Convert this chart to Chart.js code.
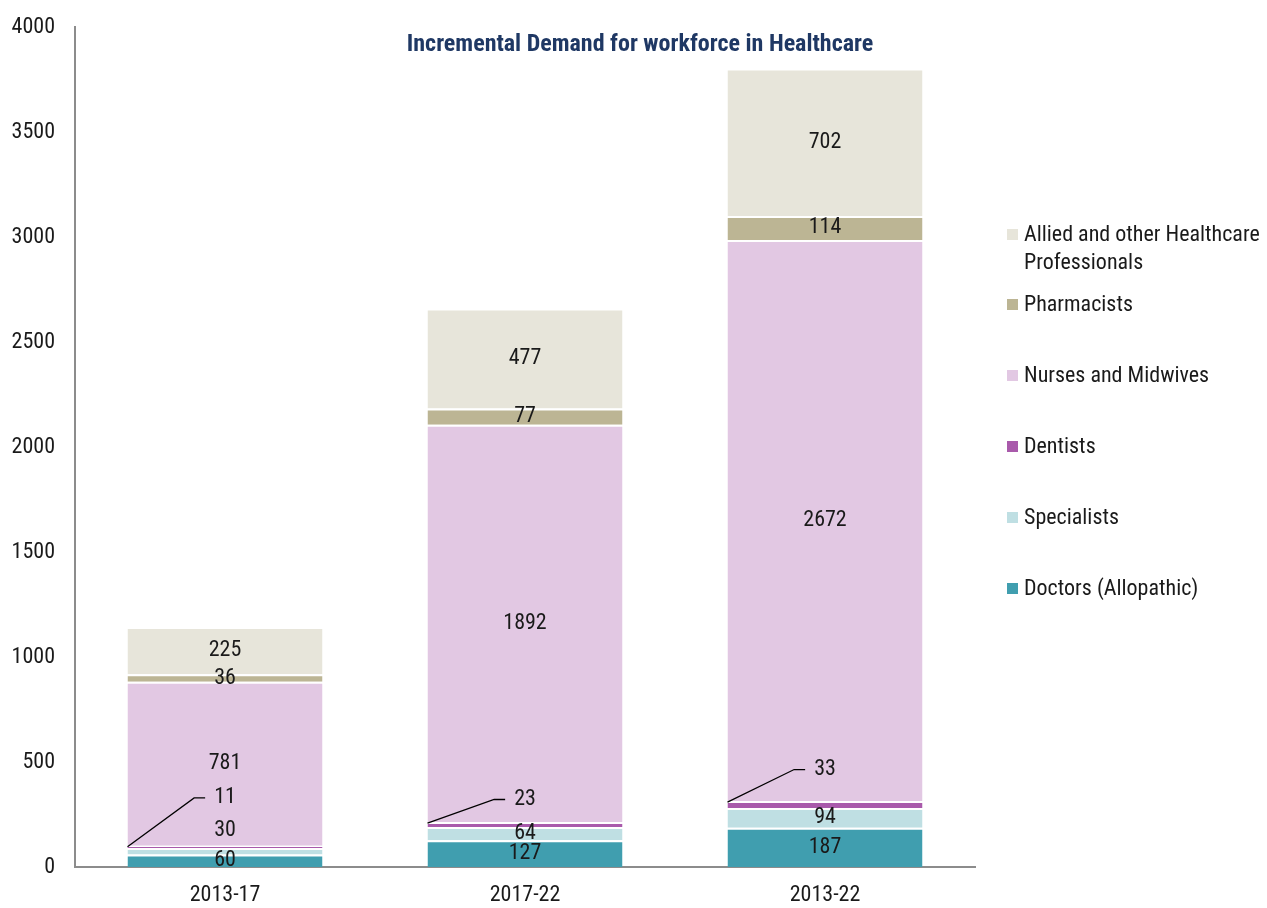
<!DOCTYPE html>
<html>
<head>
<meta charset="utf-8">
<script src="https://cdn.jsdelivr.net/npm/chart.js@4/dist/chart.umd.min.js"></script>
<style>
  html, body { margin: 0; padding: 0; background: #fff; }
  #wrap { width: 1267px; height: 908px; }
</style>
</head>
<body>
<div id="wrap"><canvas id="myChart" width="1267" height="908"></canvas></div>
<script>
const FONT = "'Roboto Condensed', 'Liberation Sans Narrow', 'DejaVu Sans Condensed', Roboto, sans-serif";

const categories = ['2013-17', '2017-22', '2013-22'];
const doctors = [60, 127, 187];
const specialists = [30, 64, 94];
const dentists = [11, 23, 33];
const nurses = [781, 1892, 2672];
const pharmacists = [36, 77, 114];
const allied = [225, 477, 702];
const yTicks = [0, 500, 1000, 1500, 2000, 2500, 3000, 3500, 4000];

const seriesNames = ['Doctors (Allopathic)', 'Specialists', 'Dentists', 'Nurses and Midwives', 'Pharmacists', 'Allied and other Healthcare Professionals'];
const seriesColors = ['#409eaf', '#bfdfe3', '#a95aab', '#e2c8e3', '#bcb594', '#e7e5da'];
const seriesValues = [doctors, specialists, dentists, nurses, pharmacists, allied];

// label shifts (px) for segments too thin to hold their number
const labelShift = {
    1: [-21, 0, 0],
    2: [-49, -25, -35]
};
const leaderSeries = 2;

const datasets = seriesValues.map((vals, i) => ({
    label: seriesNames[i],
    data: vals,
    backgroundColor: seriesColors[i],
    borderColor: '#ffffff',
    borderWidth: { top: 2, left: 0, right: 0, bottom: 0 },
    borderSkipped: false,
    barPercentage: 0.65,
    categoryPercentage: 1.0
}));

const labelsPlugin = {
    id: 'segLabels',
    afterDatasetsDraw(chart) {
        const ctx = chart.ctx;
        ctx.save();
        ctx.font = '22px ' + FONT;
        ctx.fillStyle = '#1a1a1a';
        ctx.textAlign = 'center';
        ctx.textBaseline = 'middle';
        chart.data.datasets.forEach((ds, di) => {
            const meta = chart.getDatasetMeta(di);
            meta.data.forEach((bar, i) => {
                const mid = (bar.y + bar.base) / 2;
                const shift = labelShift[di] ? labelShift[di][i] : 0;
                const ly = mid + shift;
                const txt = String(ds.data[i]);
                ctx.fillText(txt, bar.x, ly);
                if (di === leaderSeries) {
                    const tw = ctx.measureText(txt).width;
                    const endX = bar.x - tw / 2 - 9;
                    const elbowX = endX - 11;
                    ctx.beginPath();
                    ctx.strokeStyle = '#000';
                    ctx.lineWidth = 1.3;
                    ctx.moveTo(bar.x - bar.width / 2, bar.y + 1);
                    ctx.lineTo(elbowX, ly);
                    ctx.lineTo(endX, ly);
                    ctx.stroke();
                }
            });
        });
        ctx.restore();
    },
    afterDraw(chart) {
        const ctx = chart.ctx;
        ctx.save();
        // title
        ctx.font = 'bold 24px ' + FONT;
        ctx.fillStyle = '#1f3864';
        ctx.textAlign = 'center';
        ctx.textBaseline = 'middle';
        ctx.fillText('Incremental Demand for workforce in Healthcare', 640, 45);

        // legend, top series first
        const rows = [
            { i: 5, y: 235, lines: ['Allied and other Healthcare', 'Professionals'] },
            { i: 4, y: 305 },
            { i: 3, y: 376 },
            { i: 2, y: 447 },
            { i: 1, y: 518 },
            { i: 0, y: 589 }
        ];
        ctx.font = '22px ' + FONT;
        ctx.textAlign = 'left';
        rows.forEach(r => {
            ctx.fillStyle = seriesColors[r.i];
            ctx.fillRect(1007, r.y - 6, 11, 11);
            ctx.fillStyle = '#1a1a1a';
            const lines = r.lines || [seriesNames[r.i]];
            lines.forEach((t, k) => ctx.fillText(t, 1024, r.y + k * 28));
        });
        ctx.restore();
    }
};

const config = {
    type: 'bar',
    data: { labels: categories, datasets },
    options: {
        responsive: false,
        animation: false,
        layout: { padding: { top: 27, right: 292, left: 0, bottom: 0 } },
        plugins: {
            legend: { display: false },
            tooltip: { enabled: false },
            title: { display: false }
        },
        scales: {
            x: {
                stacked: true,
                grid: { display: false, drawTicks: false },
                border: { display: true, color: '#8c8c8c', width: 2 },
                ticks: { color: '#1a1a1a', font: { size: 22, family: FONT }, padding: 15 },
                afterFit(scale) { scale.height = 41; }
            },
            y: {
                stacked: true,
                min: 0,
                max: 4000,
                afterBuildTicks(scale) { scale.ticks = yTicks.map(v => ({ value: v })); },
                grid: { display: false, drawTicks: false },
                border: { display: true, color: '#8c8c8c', width: 2 },
                ticks: {
                    color: '#1a1a1a',
                    font: { size: 22, family: FONT },
                    padding: 20,
                    callback: v => String(v)
                },
                afterFit(scale) {
                    scale.width = 75;
                    scale.paddingTop = 0;
                    scale.paddingBottom = 0;
                }
            }
        }
    },
    plugins: [labelsPlugin]
};

const myChart = new Chart(document.getElementById('myChart').getContext('2d'), config);
</script>
</body>
</html>
